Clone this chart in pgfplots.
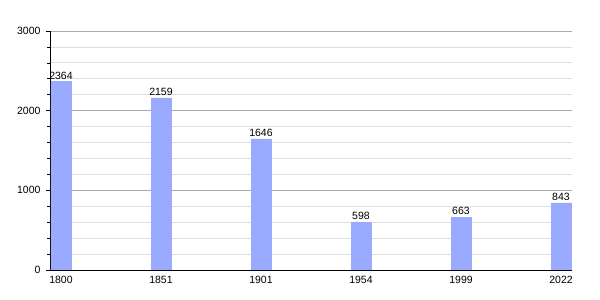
\documentclass[border=0pt]{standalone}
\usepackage{pgfplots}
\pgfplotsset{compat=1.18}
\usepackage{fontspec}
\setmainfont{Liberation Sans}
\definecolor{barc}{RGB}{153,170,255}
\definecolor{majg}{RGB}{170,170,170}
\definecolor{ming}{RGB}{222,222,222}
\begin{document}
\begin{tikzpicture}
\path[use as bounding box] (0,0) rectangle (600pt,300pt);
\begin{axis}[
  at={(50pt,30pt)}, anchor=south west,
  scale only axis, width=522pt, height=239pt,
  xmin=-0.11, xmax=5.11, ymin=0, ymax=3000,
  axis lines*=left, axis line style={black, line width=0.8pt, -},
  xtick={0,1,2,3,4,5},
  xticklabels={1800,1851,1901,1954,1999,2022},
  ytick={0,1000,2000,3000},
  minor y tick num=4,
  ymajorgrids, yminorgrids,
  major grid style={majg, line width=0.8pt},
  minor grid style={ming, line width=0.8pt},
  tick align=outside,
  major tick length=4pt, minor tick length=3pt,
  xtick style={draw=none},
  ytick style={black, line width=0.6pt},
  tick label style={font=\fontsize{10.5}{12}\selectfont},
  /pgf/number format/assume math mode=true,
  /pgf/number format/1000 sep={},
  xticklabel style={yshift=1pt},
  yticklabel style={xshift=-2pt},
  ybar, bar width=20pt,
  nodes near coords,
  every node near coord/.append style={font=\fontsize{10.5}{12}\selectfont, /pgf/number format/assume math mode=true, /pgf/number format/1000 sep={}, yshift=-1pt},
]
\addplot[fill=barc, draw=barc] coordinates {(0,2364) (1,2159) (2,1646) (3,598) (4,663) (5,843)};
\end{axis}
\end{tikzpicture}
\end{document}
